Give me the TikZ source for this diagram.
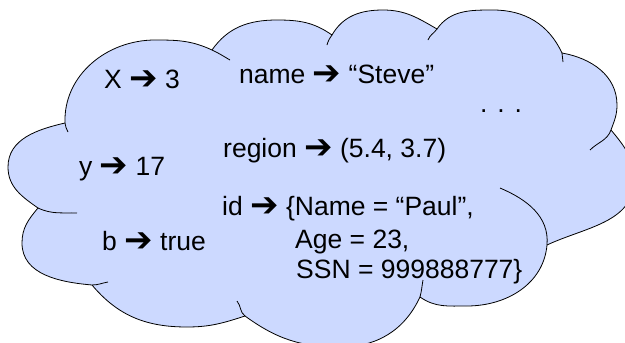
\documentclass[tikz,border=0pt]{standalone}
\usepackage{fontspec}
\setmainfont{Liberation Sans}
\newfontfamily\arrowfont{DejaVu Sans}
\newcommand{\goesto}{\raisebox{-1.5pt}{\arrowfont\fontsize{34}{34}\selectfont ➔}}
\definecolor{cloudblue}{RGB}{204,217,255}

\begin{document}
\begin{tikzpicture}[x=1pt, y=1pt,
    lbl/.style={anchor=base west, inner sep=0pt, font=\fontsize{26.5}{32}\selectfont},
    edge/.style={line width=0.8pt, line join=round}]
    \useasboundingbox (0,0) rectangle (625,-343);
    \clip (0,0) rectangle (625,-343);

    % cloud
    \coordinate (j1) at (65,-123);
    \coordinate (j2) at (212,-50);
    \coordinate (j3) at (332,-35);
    \coordinate (j4) at (437,-29);
    \coordinate (j5) at (562,-53);
    \coordinate (j6) at (611,-130);
    \coordinate (j7) at (547,-245);
    \coordinate (j8) at (420,-297);
    \coordinate (j9) at (245,-316);
    \coordinate (j10) at (92,-285);
    \coordinate (j11) at (38,-208);
    \draw[edge, fill=cloudblue] (j1)
        to[out=92, in=180] (155,-40) to[out=0, in=155] (j2)
        to[out=55, in=180] (277,-20) to[out=0, in=145] (j3)
        to[out=60, in=180] (383,-10) to[out=0, in=150] (j4)
        to[out=55, in=180] (493,-10) to[out=0, in=115] (j5)
        to[out=-10, in=90] (617,-105) to[out=-90, in=70] (j6)
        to[out=-50, in=90] (634,-180) to[out=-90, in=25] (j7)
        to[out=-95, in=0] (467,-306) to[out=180, in=-35] (j8)
        to[out=-115, in=0] (340,-347) to[out=180, in=-36] (j9)
        to[out=198, in=0] (187,-327) to[out=180, in=-50] (j10)
        to[out=175, in=-90] (22,-243) to[out=90, in=-130] (j11)
        to[out=145, in=-90] (8,-167) to[out=90, in=193] cycle;

    % inner arcs
    \draw[edge] (j1) to[out=-85, in=115] (68,-132);
    \draw[edge] (j2) to[out=-25, in=150] (230,-60);
    \draw[edge] (j3) to[out=235, in=75] (327,-45);
    \draw[edge] (j4) to[out=235, in=70] (428,-40);
    \draw[edge] (j5) to[out=-85, in=95] (563,-62);
    \draw[edge] (j6) to[out=-110, in=45] (590,-150);
    \draw[edge] (j7) to[out=85, in=-23] (500,-188);
    \draw[edge] (j8) to[out=75, in=-100] (423,-280);
    \draw[edge] (j9) to[out=144, in=-50] (237,-301);
    \draw[edge] (j10) to[out=0, in=190] (108,-282);
    \draw[edge] (j11) to[out=-25, in=178] (77,-213);

    % bindings
    \node[lbl] (x) at (104,-88) {X \goesto{} 3};
    \node[lbl] (name) at (239,-83) {name \goesto{} “Steve”};
    \node[lbl] (dots) at (480,-112) {. . .};
    \node[lbl] (region) at (223,-157) {region \goesto{} (5.4, 3.7)};
    \node[lbl] (y) at (79,-175) {y \goesto{} 17};
    \node[lbl] (id) at (222,-215) {id \goesto{} \{Name = “Paul”,};
    \node[lbl] (b) at (102,-250) {b \goesto{} true};
    \node[lbl] (age) at (295,-248) {Age = 23,};
    \node[lbl] (ssn) at (296,-278) {SSN = 999888777\}};
\end{tikzpicture}
\end{document}
